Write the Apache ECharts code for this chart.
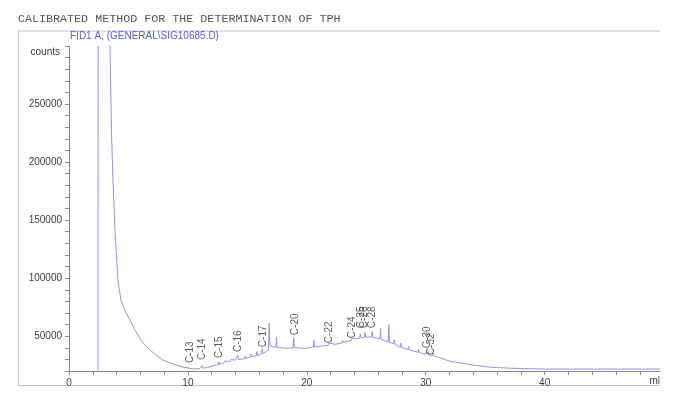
<!DOCTYPE html>
<html>
<head>
<meta charset="utf-8">
<script src="https://cdn.jsdelivr.net/npm/echarts@6/dist/echarts.min.js"></script>
<style>
html,body{margin:0;padding:0;background:#fff;}
#chart{width:679px;height:403px;}
</style>
</head>
<body>
<div id="chart"></div>
<script>
// Chromatogram trace (retention time in minutes, detector counts)
const traceTimes = [
  2.44, 2.46, 3.40, 3.45, 3.57, 3.70, 3.87, 4.12, 4.37, 4.71, 5.13, 5.55, 6.05, 6.55, 7.23, 7.90, 8.74, 9.58,
  10.50, 11.00, 11.15, 11.20, 11.25, 11.65, 11.70, 11.75, 12.00, 12.55, 12.60, 12.65, 13.00, 13.05, 13.10, 13.15,
  13.55, 13.60, 13.65, 14.00, 14.15, 14.20, 14.25, 14.75, 14.80, 14.85, 15.00, 15.25, 15.30, 15.35, 15.75, 15.80,
  15.85, 16.00, 16.20, 16.25, 16.30, 16.50, 16.78, 16.83, 16.90, 17.10, 17.40, 17.45, 17.50, 17.80, 18.30, 18.85,
  18.90, 18.95, 19.40, 20.00, 20.55, 20.60, 20.65, 21.20, 21.80, 21.85, 21.90, 22.40, 22.95, 23.00, 23.05, 23.50,
  23.75, 23.80, 23.85, 24.20, 24.45, 24.50, 24.55, 24.85, 24.90, 24.95, 25.20, 25.45, 25.50, 25.55, 25.80, 26.15,
  26.20, 26.25, 26.55, 26.85, 26.90, 26.95, 27.30, 27.35, 27.40, 27.85, 27.90, 27.95, 28.50, 28.55, 28.60, 29.00,
  29.35, 29.40, 29.45, 30.00, 30.15, 30.20, 30.25, 30.55, 30.60, 30.65, 31.00, 31.45, 31.50, 31.55, 32.00, 33.00,
  34.00, 35.00, 36.00, 38.00, 40.00, 49.70
];
const traceCounts = [
  20500, 600000, 340000, 300000, 227000, 184000, 141000, 98000, 81000, 72000, 63700, 55200, 46600, 40600, 34500, 29400, 26000, 23400,
  21700, 22100, 22300, 24800, 22400, 23000, 24600, 23100, 24200, 25600, 28000, 25800, 26800, 27000, 28600, 27100,
  28000, 29800, 28200, 29400, 29700, 33600, 29900, 30600, 32800, 30700, 31100, 32100, 34600, 32300, 33200, 36600,
  33400, 33700, 34800, 39200, 35000, 36300, 38500, 61000, 42000, 41000, 40500, 49000, 40500, 40000, 39700, 40000,
  48500, 40200, 39800, 39700, 40500, 46500, 40700, 41500, 42200, 44000, 42400, 43000, 44200, 46500, 44400, 45700,
  46600, 48400, 46800, 47800, 48400, 52000, 48600, 49000, 53500, 49100, 49300, 49200, 54000, 49100, 48500, 47800,
  56500, 47200, 46000, 45200, 60000, 44800, 43500, 47000, 43300, 40500, 44000, 40300, 38600, 41000, 38400, 37100,
  36200, 38500, 36000, 34500, 34100, 37000, 34000, 33200, 35200, 33100, 32000, 30500, 32000, 30300, 28500, 26800,
  25100, 23800, 22900, 22100, 21700, 21700
];

// Peak annotations
const peakNames = ['C-13', 'C-14', 'C-15', 'C-16', 'C-17', 'C-20', 'C-22', 'C-24', 'C-25', 'C-26', 'C-28', 'C-30', 'C-32'];
const peakTimes = [10.17, 11.2, 12.6, 14.2, 16.3, 19.0, 21.85, 23.8, 24.6, 24.8, 25.5, 30.1, 30.5];
const peakLabelCounts = [26800, 29400, 31100, 36300, 40550, 50900, 44000, 48300, 56900, 56900, 56900, 39700, 33700];

// Axis ticks
const xLabelValues = [0, 10, 20, 30, 40];
const yLabelValues = [50000, 100000, 150000, 200000, 250000];

const traceData = traceTimes.map((t, i) => [t, traceCounts[i]]);
const peakData = peakTimes.map((t, i) => ({ name: peakNames[i], value: [t, peakLabelCounts[i]] }));

const chart = echarts.init(document.getElementById('chart'), null, { renderer: 'canvas' });
const axisGray = '#8a8a8a';
const textColor = '#3a3a3a';

chart.setOption({
  backgroundColor: '#ffffff',
  animation: false,
  grid: { left: 69, right: 19, top: 46, bottom: 32 },
  xAxis: {
    type: 'value',
    min: 0,
    max: 49.7,
    interval: 2,
    splitLine: { show: false },
    axisLine: { show: true, lineStyle: { color: axisGray, width: 1 } },
    axisTick: { show: true, length: 4, lineStyle: { color: axisGray } },
    axisLabel: {
      color: textColor, fontSize: 10, fontFamily: 'Liberation Sans, Arial, sans-serif', margin: 7,
      showMaxLabel: false,
      formatter: v => (xLabelValues.indexOf(v) >= 0 ? String(v) : '')
    }
  },
  yAxis: {
    type: 'value',
    min: 20000,
    max: 300000,
    interval: 10000,
    splitLine: { show: false },
    axisLine: { show: true, lineStyle: { color: axisGray, width: 1 } },
    axisTick: { show: true, length: 4, lineStyle: { color: axisGray } },
    axisLabel: {
      color: textColor, fontSize: 10, fontFamily: 'Liberation Sans, Arial, sans-serif', margin: 7,
      formatter: v => (yLabelValues.indexOf(v) >= 0 ? String(v) : '')
    }
  },
  series: [
    {
      type: 'line',
      data: traceData,
      showSymbol: false,
      symbol: 'none',
      clip: true,
      lineStyle: { color: '#9b90dc', width: 1 },
      z: 3
    },
    {
      type: 'scatter',
      data: peakData,
      symbolSize: 0,
      clip: false,
      label: {
        show: true,
        position: 'top',
        distance: 0,
        rotate: 90,
        align: 'left',
        verticalAlign: 'middle',
        formatter: p => p.name,
        color: '#333',
        fontSize: 10,
        fontFamily: 'Liberation Sans, Arial, sans-serif'
      },
      z: 4
    }
  ],
  graphic: [
    { type: 'line', shape: { x1: 18, y1: 31, x2: 660, y2: 31 }, style: { stroke: '#c4c4c4', lineWidth: 1 } },
    { type: 'line', shape: { x1: 18.5, y1: 31, x2: 18.5, y2: 385 }, style: { stroke: '#c4c4c4', lineWidth: 1 } },
    { type: 'line', shape: { x1: 18, y1: 385.5, x2: 660, y2: 385.5 }, style: { stroke: '#c4c4c4', lineWidth: 1 } },
    {
      type: 'text', left: 18, top: 13,
      style: { text: 'CALIBRATED METHOD FOR THE DETERMINATION OF TPH', fill: '#555', font: '11.7px "Liberation Mono", "Courier New", monospace' }
    },
    {
      type: 'text', left: 70, top: 31,
      style: { text: 'FID1 A, (GENERAL\\SIG10685.D)', fill: '#5560d0', font: '10px "Liberation Sans", Arial, sans-serif' }
    },
    {
      type: 'text', right: 619, top: 47,
      style: { text: 'counts', fill: textColor, font: '10px "Liberation Sans", Arial, sans-serif', textAlign: 'right' }
    },
    {
      type: 'text', right: 19, top: 376,
      style: { text: 'mi', fill: textColor, font: '10px "Liberation Sans", Arial, sans-serif' }
    }
  ]
});
</script>
</body>
</html>
